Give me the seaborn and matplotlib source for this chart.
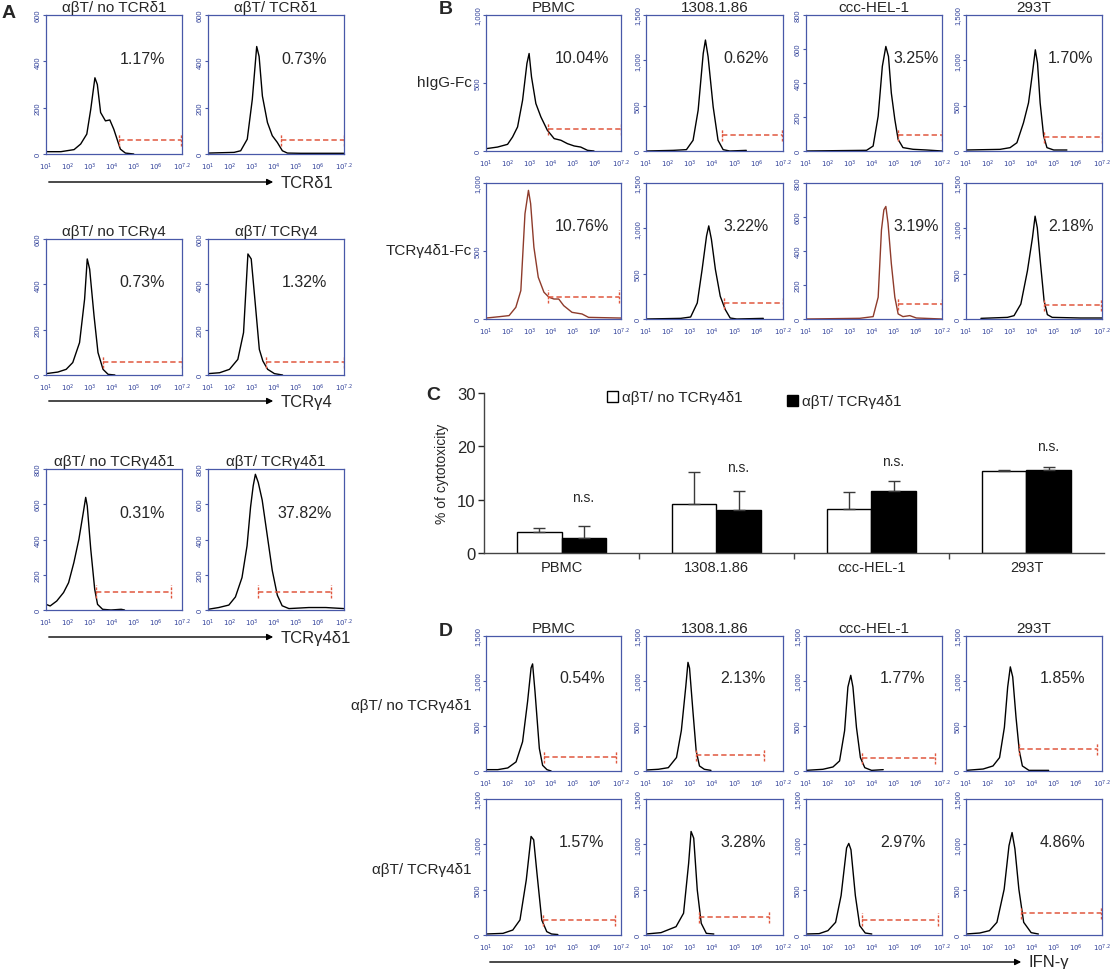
import numpy as np
import matplotlib
matplotlib.use("Agg")
import matplotlib.pyplot as plt
import seaborn as sns
import pandas as pd

# ---------------- data ----------------
# flow histograms: (log10 fluorescence, cell count) key points of each trace
# panel A, row 1 (TCRd1)
A_d1_no = [(1.0, 10), (1.68, 10), (2.28, 19), (2.58, 43), (2.86, 86), (3.04, 193), (3.23, 329), (3.34, 300),
           (3.49, 179), (3.71, 143), (3.91, 147), (4.09, 107), (4.24, 64), (4.39, 21), (4.62, 4), (5.0, 0)]
A_d1_yes = [(1.0, 4), (2.19, 7), (2.49, 14), (2.79, 64), (3.02, 236), (3.22, 464), (3.33, 421), (3.48, 250),
            (3.71, 136), (3.93, 79), (4.16, 50), (4.39, 14), (4.62, 4), (5.22, 3), (7.2, 3)]
# panel A, row 2 (TCRg4)
A_g4_no = [(1.0, 6), (1.54, 13), (1.92, 25), (2.22, 55), (2.53, 143), (2.76, 335), (2.88, 512), (2.99, 467),
           (3.19, 261), (3.37, 99), (3.6, 25), (3.83, 3), (4.14, 0)]
A_g4_yes = [(1.0, 6), (1.53, 10), (1.98, 25), (2.36, 69), (2.62, 187), (2.82, 534), (2.97, 512), (3.15, 320),
            (3.34, 113), (3.5, 62), (3.72, 25), (4.03, 6), (4.4, 0)]
# panel A, row 3 (TCRg4d1)
A_g4d1_no = [(1.0, 32), (1.19, 23), (1.49, 51), (1.8, 99), (2.03, 155), (2.27, 269), (2.5, 402), (2.7, 553),
             (2.81, 639), (2.88, 591), (3.04, 345), (3.22, 118), (3.35, 32), (3.58, 4), (3.96, 0), (4.43, 4), (4.58, 0)]
A_g4d1_yes = [(1.0, 4), (1.49, 14), (1.95, 28), (2.25, 74), (2.55, 184), (2.78, 364), (2.94, 584), (3.06, 704),
              (3.16, 770), (3.29, 724), (3.47, 624), (3.7, 424), (3.93, 224), (4.16, 84), (4.38, 24), (4.69, 8),
              (5.6, 14), (6.37, 14), (7.2, 8)]
A_gates = [[(4.32, 7.15, 61), (4.31, 7.2, 61)],
           [(3.6, 7.2, 59), (3.65, 7.2, 59)],
           [(3.3, 6.7, 104), (3.29, 6.63, 104)]]
A_pct = [["1.17%", "0.73%"], ["0.73%", "1.32%"], ["0.31%", "37.82%"]]
A_titles = [["αβT/ no TCRδ1", "αβT/ TCRδ1"], ["αβT/ no TCRγ4", "αβT/ TCRγ4"], ["αβT/ no TCRγ4δ1", "αβT/ TCRγ4δ1"]]
A_markers = ["TCRδ1", "TCRγ4", "TCRγ4δ1"]
A_ymax = [600, 600, 800]

# panel B: hIgG-Fc (row 1) and TCRg4d1-Fc (row 2) staining
cells = ["PBMC", "1308.1.86", "ccc-HEL-1", "293T"]
B_pbmc_igg = [(1.0, 17), (1.53, 29), (1.99, 49), (2.22, 103), (2.45, 177), (2.68, 373), (2.88, 644), (2.98, 717),
              (3.09, 545), (3.29, 349), (3.52, 251), (3.82, 152), (4.13, 91), (4.44, 79), (4.74, 54), (5.05, 37),
              (5.35, 29), (5.66, 5), (5.96, 0)]
B_1308_igg = [(1.0, 0), (2.23, 7), (2.83, 15), (3.13, 118), (3.36, 450), (3.59, 1076), (3.69, 1224), (3.81, 1040),
              (4.04, 487), (4.26, 118), (4.49, 15), (4.79, 0), (5.54, 7)]
B_hel_igg = [(1.0, 0), (3.76, 4), (4.06, 29), (4.29, 205), (4.48, 498), (4.64, 615), (4.76, 556), (4.89, 341),
             (5.05, 185), (5.2, 68), (5.42, 20), (5.88, 10), (6.48, 6), (7.2, 0)]
B_293_igg = [(1.0, 11), (2.55, 18), (3.01, 37), (3.32, 91), (3.62, 311), (3.85, 531), (4.03, 860), (4.16, 1116),
             (4.26, 970), (4.38, 531), (4.54, 165), (4.69, 37), (5.0, 11), (5.6, 11)]
B_pbmc_tcr = [(1.0, 7), (1.61, 17), (2.06, 25), (2.37, 86), (2.6, 209), (2.79, 774), (2.95, 946), (3.05, 848),
              (3.2, 528), (3.4, 307), (3.66, 197), (3.89, 160), (4.12, 147), (4.34, 147), (4.57, 98), (4.95, 49),
              (5.41, 37), (5.71, 12), (7.2, 7)]
B_1308_tcr = [(1.0, 0), (2.57, 7), (3.02, 22), (3.32, 177), (3.54, 547), (3.74, 916), (3.84, 1027), (3.96, 879),
              (4.14, 547), (4.36, 251), (4.59, 103), (4.81, 11), (5.11, 0), (6.31, 7)]
B_hel_tcr = [(1.0, 0), (3.45, 4), (4.06, 14), (4.29, 128), (4.44, 524), (4.55, 642), (4.64, 662), (4.74, 563),
             (4.89, 326), (5.05, 128), (5.2, 30), (5.42, 14), (5.73, 20), (6.03, 6), (7.2, 0)]
B_293_tcr = [(1.68, 7), (2.89, 18), (3.19, 37), (3.5, 165), (3.8, 531), (4.03, 897), (4.15, 1134), (4.25, 1006),
             (4.4, 604), (4.56, 201), (4.71, 48), (4.93, 18), (6.22, 11), (7.2, 11)]
B_gates = [[(3.85, 7.18, 160), (4.46, 7.17, 173), (5.2, 7.2, 92), (4.57, 7.2, 154)],
           [(3.86, 7.11, 165), (4.51, 7.2, 177), (5.2, 7.2, 89), (4.56, 7.17, 157)]]
B_pct = [["10.04%", "0.62%", "3.25%", "1.70%"], ["10.76%", "3.22%", "3.19%", "2.18%"]]
B_rows = ["hIgG-Fc", "TCRγ4δ1-Fc"]
B_ymax = [1000, 1500, 800, 1500]

# panel C: % cytotoxicity (mean, upper SD)
cyto_no = [4.0, 9.1, 8.2, 15.3]
cyto_no_err = [0.6, 6.1, 3.2, 0.3]
cyto_yes = [2.9, 8.1, 11.6, 15.5]
cyto_yes_err = [2.1, 3.6, 1.9, 0.6]
ns_y = [10.5, 16.1, 17.3, 20.0]

# panel D: IFN-g intracellular staining
D_pbmc_no = [(1.0, 15), (1.54, 15), (2.0, 34), (2.38, 101), (2.68, 325), (2.91, 772), (3.07, 1146), (3.14, 1190),
             (3.25, 884), (3.45, 250), (3.6, 63), (3.8, 15), (3.99, 0)]
D_1308_no = [(1.0, 11), (1.56, 19), (2.01, 37), (2.38, 150), (2.6, 450), (2.8, 937), (2.9, 1207), (2.97, 1144),
             (3.12, 675), (3.27, 225), (3.42, 56), (3.64, 19), (3.94, 7)]
D_hel_no = [(1.0, 7), (1.77, 19), (2.23, 45), (2.53, 112), (2.76, 448), (2.91, 933), (3.04, 1063), (3.14, 933),
            (3.3, 485), (3.48, 149), (3.68, 37), (3.99, 7), (4.52, 15)]
D_293_no = [(1.0, 7), (1.78, 22), (2.23, 56), (2.53, 149), (2.75, 485), (2.9, 933), (3.02, 1157), (3.13, 1045),
            (3.28, 597), (3.43, 224), (3.57, 56), (3.87, 7), (4.77, 7)]
D_pbmc_yes = [(1.0, 11), (1.78, 18), (2.23, 55), (2.56, 166), (2.85, 608), (3.07, 1087), (3.19, 1050), (3.34, 682),
              (3.56, 166), (3.79, 37), (4.01, 11), (4.3, 5)]
D_1308_yes = [(1.0, 11), (1.68, 26), (2.36, 92), (2.7, 240), (2.93, 792), (3.04, 1142), (3.16, 1068), (3.32, 497),
              (3.5, 129), (3.73, 18), (4.07, 11)]
D_hel_yes = [(1.0, 11), (1.6, 15), (2.0, 48), (2.35, 140), (2.6, 435), (2.85, 960), (2.95, 1010), (3.05, 940),
             (3.25, 435), (3.45, 103), (3.7, 22), (4.0, 11)]
D_293_yes = [(1.0, 11), (1.63, 22), (2.07, 48), (2.41, 140), (2.74, 505), (2.96, 985), (3.1, 1130), (3.23, 950),
             (3.41, 505), (3.63, 140), (3.97, 26), (4.3, 11)]
D_gates = [[(3.65, 6.97, 157), (3.27, 6.34, 180), (3.56, 6.9, 149), (3.4, 6.99, 243)],
           [(3.63, 6.91, 166), (3.38, 6.56, 195), (3.55, 7.0, 170), (3.52, 7.16, 240)]]
D_pct = [["0.54%", "2.13%", "1.77%", "1.85%"], ["1.57%", "3.28%", "2.97%", "4.86%"]]
D_rows = ["αβT/ no TCRγ4δ1", "αβT/ TCRγ4δ1"]

# ---------------- styling ----------------
sns.set_style("white")
plt.rcParams["font.family"] = ["Liberation Sans", "DejaVu Sans"]

W, H = 1111, 970
BLUE = "#4858a8"
TXT_BLUE = "#32429a"
RED = "#e0573f"
BROWN = "#8e3b2b"

fig = plt.figure(figsize=(W / 100, H / 100), dpi=100)


def px_axes(x0, x1, y0, y1):
    return fig.add_axes([x0 / W, 1 - y1 / H, (x1 - x0) / W, (y1 - y0) / H])


def fig_text(x, y, s, **kw):
    fig.text(x / W, 1 - y / H, s, **kw)


def arrow(x0, x1, y, label):
    fig.add_artist(matplotlib.patches.FancyArrowPatch(
        (x0 / W, 1 - y / H), (x1 / W, 1 - y / H), transform=fig.transFigure,
        arrowstyle="-|>", mutation_scale=9, lw=1.0, color="black"))
    fig_text(x1 + 5, y, label, fontsize=12, va="center", ha="left")


def square(x, y, size, face):
    fig.add_artist(matplotlib.patches.Rectangle(
        (x / W, 1 - (y + size) / H), size / W, size / H, transform=fig.transFigure,
        facecolor=face, edgecolor="black", lw=1.0))


minor_pos = [np.log10(m) + k for k in range(1, 7) for m in range(2, 10)] + [7.0]


def flow_panel(ax, pts, gate, pct, ymax, color="black", title=None, pct_x=0.72):
    df = pd.DataFrame(pts, columns=["log_fl", "count"])
    sns.lineplot(data=df, x="log_fl", y="count", ax=ax, color=color, linewidth=1.0,
                 estimator=None, sort=False)
    g0, g1, gy = gate
    ax.hlines(gy, g0, g1, colors=RED, linestyles=(0, (3.5, 2)), linewidth=1.1)
    ax.vlines([g0, g1], gy - ymax * 0.045, gy + ymax * 0.045, colors=RED, linewidth=1.0,
              linestyles=(0, (2, 1)))
    ax.text(pct_x, 0.69, pct, transform=ax.transAxes, ha="center", va="center", fontsize=11.5)
    ax.set_xlim(1, 7.2)
    ax.set_ylim(0, ymax)
    step = 500 if ymax >= 1000 else 200
    yt = list(range(0, ymax + 1, step))
    ax.set_yticks(yt)
    ax.set_yticklabels([f"{v:,}" for v in yt], rotation=90, va="center")
    xt = [1, 2, 3, 4, 5, 6, 7.2]
    ax.set_xticks(xt)
    ax.set_xticklabels([f"$10^{{{v}}}$" for v in xt])
    ax.set_xticks(minor_pos, minor=True)
    ax.tick_params(axis="x", which="both", direction="out", length=3.5, width=0.9, color=BLUE,
                   labelcolor=TXT_BLUE, labelsize=5, pad=1.5)
    ax.tick_params(axis="y", which="both", left=True, length=2, width=0.8, color=BLUE,
                   labelcolor=TXT_BLUE, labelsize=5.5, pad=1)
    for sp in ax.spines.values():
        sp.set_color(BLUE)
        sp.set_linewidth(0.9)
    ax.set_xlabel("")
    ax.set_ylabel("")
    if title:
        ax.set_title(title, fontsize=11, pad=3)


# ---------------- panel A ----------------
A_cols = [(46, 182), (208, 344)]
A_rows_px = [(16, 155), (240, 376), (470, 611)]
A_data = [[A_d1_no, A_d1_yes], [A_g4_no, A_g4_yes], [A_g4d1_no, A_g4d1_yes]]
A_arrow_y = [183, 402, 638]
for r, (y0, y1) in enumerate(A_rows_px):
    for c, (x0, x1) in enumerate(A_cols):
        ax = px_axes(x0, x1, y0, y1)
        flow_panel(ax, A_data[r][c], A_gates[r][c], A_pct[r][c], A_ymax[r], title=A_titles[r][c], pct_x=0.71)
    arrow(46, 276, A_arrow_y[r], A_markers[r])

# ---------------- panel B ----------------
BD_cols = [(486, 621), (646, 783), (806, 942), (966, 1102)]
B_rows_px = [(16, 152), (184, 320)]
B_pct_x = [0.71, 0.73, 0.81, 0.77]
B_data = [[B_pbmc_igg, B_1308_igg, B_hel_igg, B_293_igg], [B_pbmc_tcr, B_1308_tcr, B_hel_tcr, B_293_tcr]]
B_colors = [["black"] * 4, [BROWN, "black", BROWN, "black"]]
for r, (y0, y1) in enumerate(B_rows_px):
    for c, (x0, x1) in enumerate(BD_cols):
        ax = px_axes(x0, x1, y0, y1)
        flow_panel(ax, B_data[r][c], B_gates[r][c], B_pct[r][c], B_ymax[c], color=B_colors[r][c],
                   title=cells[c] if r == 0 else None, pct_x=B_pct_x[c])
    fig_text(472, (y0 + y1) / 2 - 1, B_rows[r], fontsize=11, ha="right", va="center")

# ---------------- panel C ----------------
axc = px_axes(484, 1104, 394, 554)
groups = ["αβT/ no TCRγ4δ1", "αβT/ TCRγ4δ1"]
cdf = pd.DataFrame({"cell": cells * 2,
                    "group": [groups[0]] * 4 + [groups[1]] * 4,
                    "value": cyto_no + cyto_yes})
sns.barplot(data=cdf, x="cell", y="value", hue="group", hue_order=groups,
            palette={groups[0]: "white", groups[1]: "black"}, edgecolor="black", linewidth=1.0,
            width=0.57, errorbar=None, legend=False, ax=axc)
for cont, errs in zip(axc.containers, [cyto_no_err, cyto_yes_err]):
    for bar, e in zip(cont, errs):
        xm = bar.get_x() + bar.get_width() / 2
        axc.errorbar(xm, bar.get_height(), yerr=[[0], [e]], fmt="none", ecolor="#3a3a3a",
                     elinewidth=1.0, capsize=4, capthick=1.0, zorder=1)
for bar, ny in zip(axc.containers[1], ns_y):
    axc.text(bar.get_x() + bar.get_width() / 2, ny, "n.s.", ha="center", va="center", fontsize=10)
axc.set_xlim(-0.5, 3.5)
axc.set_ylim(0, 30)
axc.set_yticks([0, 10, 20, 30])
axc.set_xticks([0.5, 1.5, 2.5], minor=True)
axc.tick_params(axis="x", which="major", length=0, labelsize=10.5, pad=5)
axc.tick_params(axis="x", which="minor", length=4, width=1, color="#444444", bottom=True)
axc.tick_params(axis="y", left=True, length=4, width=1, labelsize=12, pad=2)
sns.despine(ax=axc)
for sp in ["left", "bottom"]:
    axc.spines[sp].set_color("#444444")
    axc.spines[sp].set_linewidth(1.0)
axc.set_xlabel("")
axc.set_ylabel("% of cytotoxicity", fontsize=10, labelpad=6)
square(607, 392, 11, "white")
fig_text(622, 398, groups[0], fontsize=11, ha="left", va="center")
square(787, 396, 11, "black")
fig_text(802, 402, groups[1], fontsize=11, ha="left", va="center")

# ---------------- panel D ----------------
D_rows_px = [(637, 772), (800, 936)]
D_data = [[D_pbmc_no, D_1308_no, D_hel_no, D_293_no], [D_pbmc_yes, D_1308_yes, D_hel_yes, D_293_yes]]
for r, (y0, y1) in enumerate(D_rows_px):
    for c, (x0, x1) in enumerate(BD_cols):
        ax = px_axes(x0, x1, y0, y1)
        flow_panel(ax, D_data[r][c], D_gates[r][c], D_pct[r][c], 1500,
                   title=cells[c] if r == 0 else None, pct_x=0.71)
    fig_text(472, (y0 + y1) / 2 + 2, D_rows[r], fontsize=11, ha="right", va="center")
arrow(487, 1024, 963, "IFN-γ")

# panel letters
for letter, (lx, ly) in zip("ABCD", [(9, 14), (446, 10), (433, 396), (446, 632)]):
    fig_text(lx, ly, letter, fontsize=14, fontweight="bold", ha="center", va="center")

fig.savefig("out.png", dpi=100)
